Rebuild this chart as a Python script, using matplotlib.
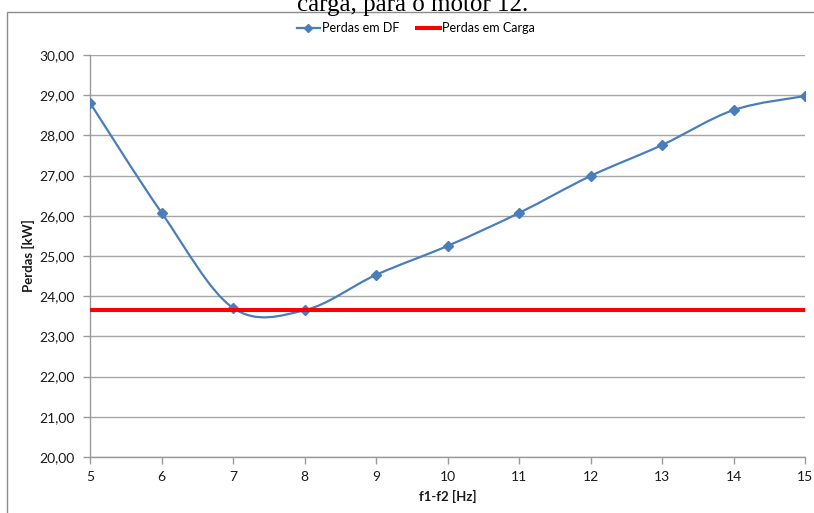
import numpy as np
import matplotlib
matplotlib.use("Agg")
import matplotlib.pyplot as plt
from matplotlib.patches import Rectangle
from matplotlib.path import Path
from matplotlib.patches import PathPatch
from matplotlib.lines import Line2D

# Data
freq_diff = [5, 6, 7, 8, 9, 10, 11, 12, 13, 14, 15]
perdas_df = [28.81, 26.08, 23.71, 23.65, 24.53, 25.25, 26.07, 26.99, 27.76, 28.63, 28.98]
perdas_carga = 23.66
y_ticks = [20, 21, 22, 23, 24, 25, 26, 27, 28, 29, 30]

plt.rcParams['font.family'] = ['Lato', 'DejaVu Sans']

W, H = 814, 513
fig = plt.figure(figsize=(W / 100, H / 100), dpi=100)

# outer chart frame (only left and top edges fall inside the figure)
fig.patches.append(Rectangle((7 / W, -0.1), 1.5, 1 - 12 / H + 0.1,
                             transform=fig.transFigure, fill=False,
                             edgecolor='#8c8c8c', linewidth=1.0))

# caption line above the chart
fig.text(413 / W, 1 - 10.5 / H, 'carga, para o motor 12.', ha='center',
         va='baseline', fontsize=18, family=['Liberation Serif'], color='black')

left, right = 90 / W, 805 / W
bottom, top = 1 - 457 / H, 1 - 55 / H
ax = fig.add_axes([left, bottom, right - left, top - bottom])

blue = '#4a7ebb'


def smooth_path(xs, ys):
    """Bezier path through the points using Catmull-Rom style control points."""
    pts = np.column_stack([xs, ys]).astype(float)
    n = len(pts)
    verts = [pts[0]]
    codes = [Path.MOVETO]
    for i in range(n - 1):
        p0 = pts[i - 1] if i > 0 else pts[i]
        p1 = pts[i]
        p2 = pts[i + 1]
        p3 = pts[i + 2] if i + 2 < n else pts[i + 1]
        c1 = p1 + (p2 - p0) / 6.0
        c2 = p2 - (p3 - p1) / 6.0
        verts += [c1, c2, p2]
        codes += [Path.CURVE4] * 3
    return Path(verts, codes)


ax.add_patch(PathPatch(smooth_path(freq_diff, perdas_df), facecolor='none',
                       edgecolor=blue, linewidth=1.6, zorder=3))
ax.plot(freq_diff, perdas_df, linestyle='none', marker='D', markersize=4.8,
        color=blue, zorder=4)
ax.axhline(perdas_carga, color='#ff0000', linewidth=2.9, zorder=5)

ax.set_xlim(5, 15)
ax.set_ylim(20, 30)
ax.set_xticks(freq_diff)
ax.set_yticks(y_ticks)
ax.set_yticklabels([f'{v:.2f}'.replace('.', ',') for v in y_ticks])
ax.grid(axis='y', color='#a6a6a6', linewidth=1.0)
ax.set_axisbelow(True)

for s in ['top', 'right']:
    ax.spines[s].set_visible(False)
for s in ['left', 'bottom']:
    ax.spines[s].set_color('#9a9a9a')
    ax.spines[s].set_linewidth(1.0)

ax.tick_params(axis='both', which='major', length=5, width=1.0,
               color='#9a9a9a', labelsize=10, labelcolor='#1a1a1a')
ax.tick_params(axis='x', pad=5)
ax.tick_params(axis='y', pad=6)

ax.set_xlabel('f1-f2 [Hz]', fontsize=9.5, fontweight='bold', labelpad=5,
              color='#1a1a1a')
ax.set_ylabel('Perdas [kW]', fontsize=9.5, fontweight='bold', labelpad=3,
              color='#1a1a1a')

handles = [
    Line2D([], [], color=blue, linewidth=1.6, marker='D', markersize=4.5),
    Line2D([], [], color='#ff0000', linewidth=2.9),
]
fig.legend(handles, ['Perdas em DF', 'Perdas em Carga'], loc='center',
           bbox_to_anchor=(416 / W, 1 - 28 / H), ncol=2, frameon=False,
           fontsize=9, handlelength=1.8, handletextpad=0.2,
           columnspacing=1.4)

fig.savefig('out.png', dpi=100)
